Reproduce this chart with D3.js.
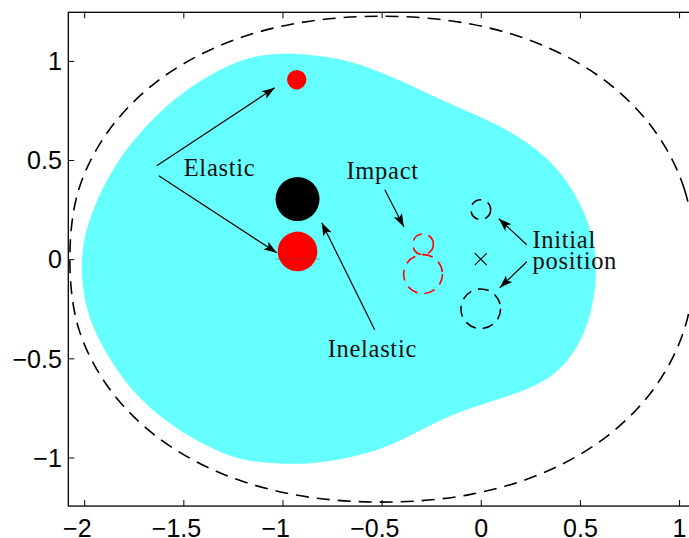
<!DOCTYPE html>
<html>
<head>
<meta charset="utf-8">
<script src="https://cdn.jsdelivr.net/npm/d3@7"></script>
<style>
  body { margin: 0; background: #fff; }
  svg { display: block; }
</style>
</head>
<body>
<svg id="chart" width="689" height="538"></svg>
<script>
// Axis ticks and limits (equal scaling on both axes)
const xTicks = [-2, -1.5, -1, -0.5, 0, 0.5, 1];
const yTicks = [-1, -0.5, 0, 0.5, 1];
const xDomain = [-2.08, 1.10];
const yDomain = [-1.245, 1.245];

// Reachable region (filled)
const reachX = [-0.963, -0.761, -0.610, -0.408, -0.156, 0.010, 0.182, 0.333, 0.439, 0.514, 0.560, 0.585, 0.580, 0.550, 0.484, 0.383, 0.247, 0.096, -0.055, -0.207, -0.358, -0.509, -0.711, -0.913, -1.114, -1.251, -1.417, -1.583, -1.755, -1.871, -1.962, -2.007, -2.017, -1.992, -1.937, -1.846, -1.730, -1.583, -1.417, -1.215, -1.099];
const reachY = [1.041, 1.021, 0.985, 0.904, 0.782, 0.713, 0.627, 0.516, 0.390, 0.259, 0.133, -0.003, -0.139, -0.305, -0.456, -0.578, -0.654, -0.704, -0.750, -0.811, -0.892, -0.963, -1.013, -1.037, -1.027, -1.002, -0.926, -0.825, -0.673, -0.507, -0.341, -0.169, -0.003, 0.148, 0.299, 0.476, 0.627, 0.779, 0.904, 1.006, 1.031];

// Outer limit (dashed)
const limitX = [1.078, 1.028, 0.880, 0.643, 0.328, -0.051, -0.500, -0.949, -1.328, -1.643, -1.880, -2.028, -2.072, -2.028, -1.880, -1.643, -1.328, -0.949, -0.500, -0.051, 0.328, 0.643, 0.880, 1.028];
const limitY = [0.000, 0.349, 0.643, 0.888, 1.072, 1.186, 1.225, 1.186, 1.072, 0.888, 0.643, 0.349, 0.000, -0.349, -0.643, -0.888, -1.072, -1.186, -1.225, -1.186, -1.072, -0.888, -0.643, -0.349];

// Final positions (solid discs)
const discX = [-0.928, -0.924, -0.924];
const discY = [0.905, 0.039, 0.303];
const discR = [0.049, 0.100, 0.111];
const discKind = ["elastic", "elastic", "inelastic"];

// Impact and initial positions (dashed rings)
const ringX = [-0.291, -0.291, 0, 0];
const ringY = [0.075, -0.075, 0.25, -0.25];
const ringR = [0.052, 0.098, 0.05, 0.1];
const ringKind = ["impact", "impact", "initial", "initial"];

// Centre mark
const crossX = [0];
const crossY = [0];

// Annotation arrows
const arrowFromX = [-1.634, -1.624, -0.535, -0.484, 0.232, 0.232];
const arrowFromY = [0.471, 0.421, -0.356, 0.350, 0.073, -0.013];
const arrowToX = [-1.039, -1.029, -0.802, -0.388, 0.091, 0.096];
const arrowToY = [0.864, 0.032, 0.184, 0.164, 0.204, -0.144];

// Annotation labels (lines separated by "\n")
const labelText = ["Elastic", "Impact", "Inelastic", "Initial\nposition"];
const labelX = [-1.498, -0.677, -0.772, 0.261];
const labelY = [0.417, 0.405, -0.491, 0.056];

// ---- layout ----
const plotLeft = 68.3, plotTop = 12.3, unit = 198.3;
const x = d3.scaleLinear().domain(xDomain)
  .range([plotLeft, plotLeft + (xDomain[1] - xDomain[0]) * unit]);
const y = d3.scaleLinear().domain(yDomain)
  .range([plotTop + (yDomain[1] - yDomain[0]) * unit, plotTop]);
const px = r => x(r) - x(0);

const svg = d3.select("#chart");
const x0 = x.range()[0], x1 = x.range()[1];
const y0 = y.range()[1], y1 = y.range()[0];

const defs = svg.append("defs");
defs.append("clipPath").attr("id", "plot-clip")
  .append("rect").attr("x", x0).attr("y", y0)
  .attr("width", x1 - x0).attr("height", y1 - y0);

defs.append("marker")
  .attr("id", "head")
  .attr("markerUnits", "userSpaceOnUse")
  .attr("viewBox", "-14 -6 16 12")
  .attr("refX", 0).attr("refY", 0)
  .attr("markerWidth", 16).attr("markerHeight", 12)
  .attr("orient", "auto")
  .append("path")
  .attr("d", "M0,0 L-13,-4.6 L-10,0 L-13,4.6 Z")
  .attr("fill", "#000");

const plot = svg.append("g").attr("clip-path", "url(#plot-clip)");

const closedCurve = (xs, ys, curve) => d3.line()
  .x(i => x(xs[i])).y(i => y(ys[i]))
  .curve(curve)(d3.range(xs.length));

// reachable region
plot.append("path")
  .attr("d", closedCurve(reachX, reachY, d3.curveBasisClosed))
  .attr("fill", "#66ffff")
  .attr("stroke", "none");

// outer limit
plot.append("path")
  .attr("d", closedCurve(limitX, limitY, d3.curveCatmullRomClosed.alpha(0.5)))
  .attr("fill", "none")
  .attr("stroke", "#000")
  .attr("stroke-width", 1.6)
  .attr("stroke-dasharray", "13,8");

// solid discs
const discColor = { elastic: "#ff0000", inelastic: "#000000" };
plot.selectAll("circle.disc").data(d3.range(discX.length)).join("circle")
  .attr("class", "disc")
  .attr("cx", i => x(discX[i]))
  .attr("cy", i => y(discY[i]))
  .attr("r", i => px(discR[i]))
  .attr("fill", i => discColor[discKind[i]]);

// faint contact line through the lower elastic disc
plot.append("line")
  .attr("x1", x(-1.035)).attr("x2", x(-0.812))
  .attr("y1", y(0)).attr("y2", y(0))
  .attr("stroke", "#444").attr("stroke-width", 0.8).attr("opacity", 0.45);

// dashed rings
const ringColor = { impact: "#ff0000", initial: "#000000" };
plot.selectAll("circle.ring").data(d3.range(ringX.length)).join("circle")
  .attr("class", "ring")
  .attr("cx", i => x(ringX[i]))
  .attr("cy", i => y(ringY[i]))
  .attr("r", i => px(ringR[i]))
  .attr("fill", "none")
  .attr("stroke", i => ringColor[ringKind[i]])
  .attr("stroke-width", 1.6)
  .attr("stroke-dasharray", "11,7");

// centre cross
const cs = 6;
crossX.forEach((cx, i) => {
  const X = x(cx), Y = y(crossY[i]);
  plot.append("path")
    .attr("d", `M${X - cs},${Y - cs}L${X + cs},${Y + cs}M${X - cs},${Y + cs}L${X + cs},${Y - cs}`)
    .attr("stroke", "#000").attr("stroke-width", 1.1).attr("fill", "none");
});

// arrows
plot.selectAll("line.arrow").data(d3.range(arrowFromX.length)).join("line")
  .attr("class", "arrow")
  .attr("x1", i => x(arrowFromX[i])).attr("y1", i => y(arrowFromY[i]))
  .attr("x2", i => x(arrowToX[i])).attr("y2", i => y(arrowToY[i]))
  .attr("stroke", "#000").attr("stroke-width", 1.2)
  .attr("marker-end", "url(#head)");

// labels
const labels = plot.selectAll("text.label").data(d3.range(labelText.length)).join("text")
  .attr("class", "label")
  .attr("x", i => x(labelX[i]))
  .attr("y", i => y(labelY[i]))
  .attr("font-family", "'Liberation Serif', 'DejaVu Serif', serif")
  .attr("font-size", 24.5)
  .attr("letter-spacing", 0.7)
  .attr("fill", "#111");
labels.each(function (i) {
  const t = d3.select(this);
  labelText[i].split("\n").forEach((line, k) => {
    t.append("tspan").attr("x", x(labelX[i])).attr("dy", k === 0 ? 0 : 21).text(line);
  });
});

// ---- axes ----
const tickFont = "'Liberation Sans', Arial, Helvetica, sans-serif";
const fmt = d => (d < 0 ? "\u2212" : "") + Math.abs(d);

const gx = svg.append("g").attr("transform", `translate(0,${y1})`)
  .call(d3.axisBottom(x).tickValues(xTicks).tickFormat(fmt)
    .tickSizeInner(-6).tickSizeOuter(0).tickPadding(13.5));
svg.append("g").attr("transform", `translate(0,${y0})`)
  .call(d3.axisTop(x).tickValues(xTicks).tickFormat("")
    .tickSizeInner(-6).tickSizeOuter(0));
const gy = svg.append("g").attr("transform", `translate(${x0},0)`)
  .call(d3.axisLeft(y).tickValues(yTicks).tickFormat(fmt)
    .tickSizeInner(-6).tickSizeOuter(0).tickPadding(6.5));
svg.append("g").attr("transform", `translate(${x1},0)`)
  .call(d3.axisRight(y).tickValues(yTicks).tickFormat("")
    .tickSizeInner(-6).tickSizeOuter(0));

svg.selectAll(".domain").remove();
svg.selectAll(".tick line").attr("stroke", "#000").attr("stroke-width", 1);
svg.selectAll(".tick text")
  .attr("font-family", tickFont).attr("font-size", 25).attr("fill", "#000");
gy.selectAll(".tick text").attr("dy", "0.35em");

// negative x labels: centre the digits on the tick, sign hangs to the left
gx.selectAll(".tick text").each(function (d) {
  if (d < 0) {
    const t = d3.select(this);
    t.text(String(Math.abs(d)));
    const w = this.getComputedTextLength();
    t.text(fmt(d)).attr("text-anchor", "end").attr("x", w / 2);
  }
});

// frame
svg.append("rect")
  .attr("x", x0).attr("y", y0)
  .attr("width", x1 - x0).attr("height", y1 - y0)
  .attr("fill", "none").attr("stroke", "#000").attr("stroke-width", 1.3);
</script>
</body>
</html>
